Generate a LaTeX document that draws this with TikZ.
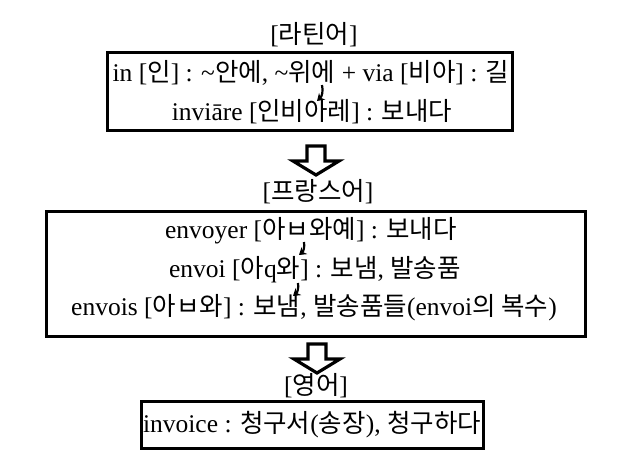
\documentclass[tikz,border=0pt]{standalone}
\usepackage{fontspec}
\setmainfont{Liberation Serif}
\newfontfamily\kr{Noto Sans CJK KR}
\usetikzlibrary{arrows.meta}
\newcommand{\K}[1]{{\kr #1}}
\newcommand{\tl}{\symbol{"7E}}
\begin{document}
\begin{tikzpicture}[x=1pt,y=-1pt,
  box/.style={draw, line width=3.6pt, inner sep=0pt},
  txt/.style={font=\fontsize{25.5}{25.5}\selectfont, inner sep=0pt, anchor=center},
  hollow/.style={draw, line width=3.2pt, line join=miter},
  curvy/.style={-{Stealth[length=7pt,width=9pt]}, line width=2.2pt}]
\useasboundingbox[fill=white] (0,0) rectangle (625,466);
\tikzset{blockarrow/.pic={
  \draw[hollow] (-9,0) -- (9,0) -- (9,15) -- (23,15) -- (0,29) -- (-23,15) -- (-9,15) -- cycle;}}
% titles
\node[txt] (t1) at (314,35) {[\K{라틴어}]};
\node[txt] (t2) at (318,192) {[\K{프랑스어}]};
\node[txt] (t3) at (316,386) {[\K{영어}]};
% boxes
\node[box, minimum width=405pt, minimum height=78pt] (b1) at (310,91.5) {};
\node[box, minimum width=539pt, minimum height=125pt] (b2) at (316,274) {};
\node[box, minimum width=342pt, minimum height=47pt] (b3) at (312.5,425) {};
% lines
\node[txt] (l1) at (311,73) {in [\K{인}] : \tl\K{안에}, \tl\K{위에} + via [\K{비아}] : \K{길}};
\node[txt] (l2) at (312,112) {inviāre [\K{인비아레}] : \K{보내다}};
\node[txt] (f1) at (311,231) {envoyer [\K{아ㅂ와예}] : \K{보내다}};
\node[txt] (f2) at (315,270) {envoi [\K{아}q\K{와}] : \K{보냄}, \K{발송품}};
\node[txt] (f3) at (314,308) {envois [\K{아ㅂ와}] : \K{보냄}, \K{발송품들}(envoi\K{의 복수})};
\node[txt] (e1) at (312,425) {invoice : \K{청구서}(\K{송장}), \K{청구하다}};
% small curved arrows
\coordinate (a1s) at (322,85); \coordinate (a1e) at (317,101);
\draw[curvy] (a1s) to[bend left=30] (a1e);
\coordinate (a2s) at (304,242); \coordinate (a2e) at (299,255);
\draw[curvy] (a2s) to[bend left=30] (a2e);
\coordinate (a3s) at (298,283); \coordinate (a3e) at (293,296);
\draw[curvy] (a3s) to[bend left=30] (a3e);
% hollow block arrows
\coordinate (h1) at (316,146);
\coordinate (h2) at (317,344);
\pic at (h1) {blockarrow};
\pic at (h2) {blockarrow};
\end{tikzpicture}
\end{document}
